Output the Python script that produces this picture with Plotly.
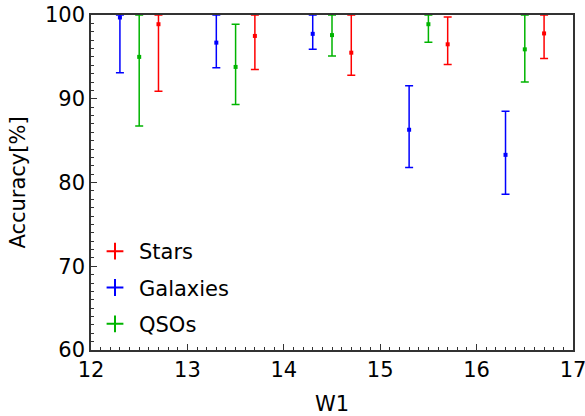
import plotly.graph_objects as go

# Data
stars_x = [12.7, 13.7, 14.7, 15.7, 16.7]
stars_y = [98.9, 97.5, 95.5, 96.5, 97.8]
stars_hi = [100.0, 100.0, 100.0, 99.75, 100.0]
stars_lo = [90.9, 93.5, 92.8, 94.1, 94.8]

gal_x = [12.3, 13.3, 14.3, 15.3, 16.3]
gal_y = [99.7, 96.7, 97.75, 86.3, 83.3]
gal_hi = [100.0, 100.0, 100.0, 91.55, 88.5]
gal_lo = [93.1, 93.7, 95.9, 81.8, 78.6]

qso_x = [12.5, 13.5, 14.5, 15.5, 16.5]
qso_y = [95.0, 93.8, 97.6, 98.9, 95.9]
qso_hi = [100.0, 98.9, 100.0, 100.0, 100.0]
qso_lo = [86.75, 89.3, 95.1, 96.75, 92.0]

x_range = [12, 17]
y_range = [60, 100]

series = [
    ("Stars", stars_x, stars_y, stars_hi, stars_lo, "#ff0000"),
    ("Galaxies", gal_x, gal_y, gal_hi, gal_lo, "#0000ff"),
    ("QSOs", qso_x, qso_y, qso_hi, qso_lo, "#00b400"),
]

fig = go.Figure()
for name, xs, ys, hi, lo, col in series:
    fig.add_trace(go.Scatter(
        x=xs, y=ys, mode="markers", showlegend=False,
        marker=dict(color=col, size=4, symbol="square"),
        error_y=dict(type="data", symmetric=False,
                     array=[h - v for h, v in zip(hi, ys)],
                     arrayminus=[v - l for v, l in zip(ys, lo)],
                     color=col, thickness=1.5, width=4),
    ))
for name, xs, ys, hi, lo, col in series:
    fig.add_trace(go.Scatter(
        x=[None], y=[None], mode="markers", name=name, legendgroup=name,
        marker=dict(color=col, size=13, symbol="cross-thin",
                    line=dict(color=col, width=1.5)),
    ))

font = "DejaVu Sans, sans-serif"
axis_common = dict(
    showgrid=False, zeroline=False, showline=True, linecolor="#333333",
    linewidth=1.5, mirror=True, ticks="inside", ticklen=6, tickwidth=1.2,
    tickcolor="#333333", automargin=False, ticklabeloverflow="allow",
    tickfont=dict(size=21),
)
fig.update_layout(
    width=585, height=416,
    margin=dict(l=91, r=12, t=15, b=66),
    paper_bgcolor="white", plot_bgcolor="white",
    font=dict(family=font, size=21, color="black"),
    legend=dict(x=0.0, y=0.355, xanchor="left", yanchor="top",
                bgcolor="rgba(0,0,0,0)", font=dict(size=21),
                itemsizing="constant", itemwidth=38, tracegroupgap=6),
    xaxis=dict(range=x_range, tick0=12, dtick=1,
               minor=dict(dtick=0.1, ticks="inside", ticklen=3, tickcolor="#333333", tickwidth=1),
               title=dict(text="W1", font=dict(size=21), standoff=15),
               **axis_common),
    yaxis=dict(range=y_range, tick0=60, dtick=10,
               minor=dict(dtick=1, ticks="inside", ticklen=3, tickcolor="#333333", tickwidth=1),
               title=dict(text="Accuracy[%]", font=dict(size=21), standoff=14),
               **axis_common),
)

fig.write_html("out.html", config={"displayModeBar": False},
               post_script="document.body.style.margin='0';")
